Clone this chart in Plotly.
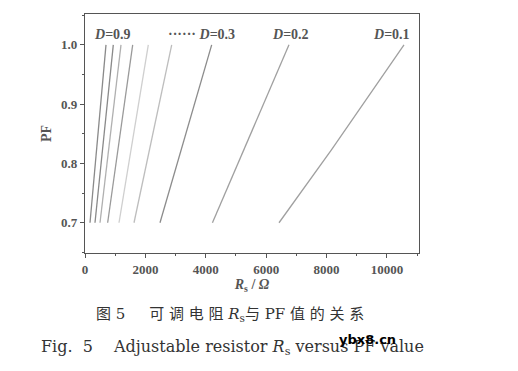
import plotly.graph_objects as go

# Data
d_values = ["0.9", "0.8", "0.7", "0.6", "0.5", "0.4", "0.3", "0.2", "0.1"]
pf_points = [0.7, 1.0]
rs_at_pf07 = [166, 331, 497, 750, 1126, 1623, 2483, 4220, 6424]
rs_at_pf10 = [695, 937, 1192, 1579, 2096, 2871, 4195, 6755, 10563]
d01_mid_pf = 0.823
d01_mid_rs = 8160
line_colors = ["#8a8a8a", "#8a8a8a", "#b0b0b0", "#9a9a9a", "#cfcfcf",
               "#bdbdbd", "#8c8c8c", "#a0a0a0", "#a0a0a0"]

x_ticks = [0, 2000, 4000, 6000, 8000, 10000]
y_ticks = [0.7, 0.8, 0.9, 1.0]

fig = go.Figure()
for i, d in enumerate(d_values):
    xs = [rs_at_pf07[i], rs_at_pf10[i]]
    ys = list(pf_points)
    if d == "0.1":
        xs = [rs_at_pf07[i], d01_mid_rs, rs_at_pf10[i]]
        ys = [pf_points[0], d01_mid_pf, pf_points[1]]
    fig.add_trace(go.Scatter(x=xs, y=ys, mode="lines",
                             line=dict(color=line_colors[i], width=1.3),
                             showlegend=False, name="D=" + d))

lab_font = dict(family="Liberation Serif", size=14, color="#555555")
labels = [(927, "<b><i>D</i>=0.9</b>"), (3870, "<b>······ <i>D</i>=0.3</b>"),
          (6820, "<b><i>D</i>=0.2</b>"), (10160, "<b><i>D</i>=0.1</b>")]
for x, t in labels:
    fig.add_annotation(x=x, y=1.017, text=t, showarrow=False, font=lab_font,
                       xanchor="center", yanchor="middle")

axis_common = dict(showline=True, linecolor="#555555", linewidth=1.3, mirror=True,
                   ticks="outside", ticklen=4, tickwidth=1.2, tickcolor="#555555",
                   showgrid=False, zeroline=False,
                   tickfont=dict(family="Liberation Serif", size=13, color="#555555"))

fig.update_xaxes(range=[0, 11060], tickvals=x_ticks,
                 ticktext=["<b>%d</b>" % v for v in x_ticks],
                 minor=dict(ticks="outside", ticklen=2, dtick=1000, tickcolor="#555555"),
                 title=dict(text="<b><i>R</i><sub>s</sub> / <i>Ω</i></b>", standoff=3,
                            font=dict(family="Liberation Serif", size=14, color="#555555")),
                 **axis_common)
fig.update_yaxes(range=[0.649, 1.052], tickvals=y_ticks,
                 ticktext=["<b>%.1f</b>" % v for v in y_ticks],
                 minor=dict(ticks="outside", ticklen=2, dtick=0.05, tickcolor="#555555"),
                 title=dict(text="<b>PF</b>", standoff=6,
                            font=dict(family="Liberation Serif", size=14, color="#555555")),
                 **axis_common)

# Captions
cn_text = ("图 5\u00a0\u00a0\u00a0\u00a0 " + " ".join("可调电阻") + " <i>R</i><sub>s</sub>与 PF "
           + " ".join("值的关系"))
fig.add_annotation(xref="paper", yref="paper", x=(230 - 85) / 334, y=(253 - 314) / 239,
                   text=cn_text, showarrow=False,
                   font=dict(family="DejaVu Serif, Noto Sans CJK SC", size=15, color="#333333"),
                   xanchor="center", yanchor="middle")
fig.add_annotation(xref="paper", yref="paper", x=(232 - 85) / 334, y=(253 - 347) / 239,
                   text="Fig.  5\u2003 Adjustable resistor <i>R</i><sub>s</sub> versus PF value",
                   showarrow=False,
                   font=dict(family="DejaVu Serif", size=16, color="#333333"),
                   xanchor="center", yanchor="middle")
fig.add_annotation(xref="paper", yref="paper", x=(367 - 85) / 334, y=(253 - 339) / 239,
                   text="<b>ybx8.cn</b>", showarrow=False,
                   font=dict(family="DejaVu Sans", size=13, color="#000000"),
                   xanchor="center", yanchor="middle")

fig.update_layout(width=518, height=371, margin=dict(l=85, r=99, t=14, b=118),
                  paper_bgcolor="white", plot_bgcolor="white")

fig.write_html("out.html")
